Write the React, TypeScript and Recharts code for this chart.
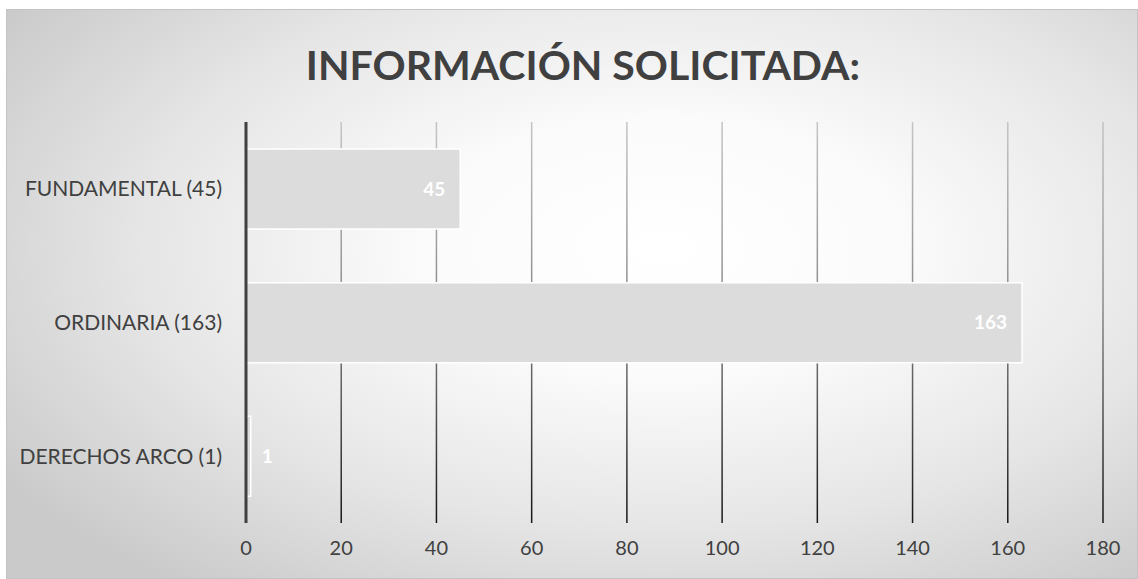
import { BarChart, Bar, XAxis, YAxis, CartesianGrid, LabelList } from 'recharts';

const categories = ['FUNDAMENTAL (45)', 'ORDINARIA (163)', 'DERECHOS ARCO (1)'];
const solicitudes = [45, 163, 1];
const xTicks = [0, 20, 40, 60, 80, 100, 120, 140, 160, 180];

const data = categories.map((name, i) => ({ name, value: solicitudes[i] }));

const FONT = 'Lato, "Open Sans", sans-serif';

function BarValue(props: any) {
  const { x, y, width, height, value } = props;
  const small = width < 30;
  return (
    <text
      x={small ? x + width + 11 : x + width - 15}
      y={y + height / 2}
      dy="0.35em"
      textAnchor={small ? 'start' : 'end'}
      fill="#ffffff"
      fontWeight={700}
      fontSize={19}
      fontFamily={FONT}
    >
      {value}
    </text>
  );
}

export default function App() {
  return (
    <div
      style={{
        position: 'absolute',
        left: 6,
        top: 9,
        width: 1132,
        height: 570,
        border: '1px solid #c4c4c4',
        boxSizing: 'border-box',
        background:
          'radial-gradient(ellipse 70% 75% at 58% 42%, #ffffff 0%, #fbfbfb 30%, #e6e6e6 65%, #cacaca 100%)',
        fontFamily: FONT,
      }}
    >
      <div
        style={{
          position: 'absolute',
          top: 30,
          left: 0,
          width: 1152,
          textAlign: 'center',
          fontSize: 41,
          fontWeight: 700,
          color: '#404040',
        }}
      >
        INFORMACIÓN SOLICITADA:
      </div>
      <BarChart
        width={1132}
        height={570}
        data={data}
        layout="vertical"
        barSize={80}
        margin={{ top: 113, right: 35, bottom: 16, left: 10 }}
        style={{ position: 'absolute', left: -1, top: -1 }}
      >
        <defs>
          <linearGradient id="gridFade" gradientUnits="userSpaceOnUse" x1="0" y1="113" x2="0" y2="514">
            <stop offset="0%" stopColor="#c4c4c4" />
            <stop offset="45%" stopColor="#8a8a8a" />
            <stop offset="100%" stopColor="#151515" />
          </linearGradient>
        </defs>
        <CartesianGrid horizontal={false} stroke="url(#gridFade)" strokeWidth={1.5} />
        <XAxis
          type="number"
          domain={[0, 180]}
          ticks={xTicks}
          axisLine={false}
          tickLine={false}
          tickSize={0}
          tickMargin={18}
          height={40}
          tick={{ fill: '#404040', fontSize: 20, fontFamily: FONT }}
        />
        <YAxis
          type="category"
          dataKey="name"
          width={230}
          axisLine={{ stroke: '#404040', strokeWidth: 3 }}
          tickLine={false}
          tickSize={0}
          tickMargin={24}
          tick={{ fill: '#404040', fontSize: 21, fontFamily: FONT }}
        />
        <Bar dataKey="value" fill="#dcdcdc" stroke="#ffffff" strokeWidth={1.5} isAnimationActive={false}>
          <LabelList dataKey="value" content={BarValue} />
        </Bar>
      </BarChart>
    </div>
  );
}
